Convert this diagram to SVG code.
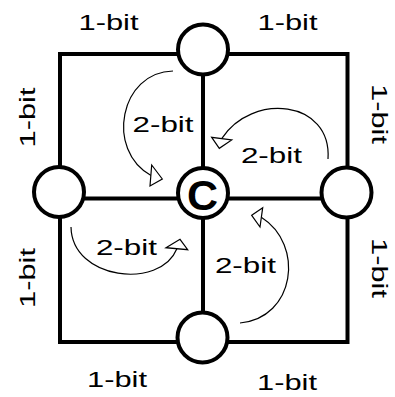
<svg xmlns="http://www.w3.org/2000/svg" width="395" height="397" viewBox="0 0 395 397">
  <style>
    .grid { fill: none; stroke: #000; stroke-width: 4; stroke-linejoin: miter; stroke-linecap: square; }
    .node { fill: #fff; stroke: #000; stroke-width: 4; }
    .arc { fill: none; stroke: #000; stroke-width: 1.2; }
    .head { fill: #fff; stroke: #000; stroke-width: 1.2; stroke-linejoin: miter; }
    .lbl { font-family: "Liberation Sans", Arial, sans-serif; font-size: 22px; fill: #000; text-anchor: middle; }
    .cen { font-family: "Liberation Sans", Arial, sans-serif; font-size: 43px; font-weight: bold; fill: #000; text-anchor: middle; }
  </style>

  <!-- links between the cells -->
  <g id="connectors">
    <rect class="grid" x="60" y="54" width="287.5" height="288"/>
    <line class="grid" x1="203" y1="54" x2="203" y2="342"/>
    <line class="grid" x1="60" y1="198.5" x2="347.5" y2="198.5"/>

    <!-- 2-bit transfer arcs -->
    <path class="arc" d="M173,71 C120,72 105,150 151,175.5"/>
    <polygon class="head" points="151.7,165 162.3,179 150,186"/>
    <path class="arc" d="M328,159 C332,100 252,92 221.7,138.6"/>
    <polygon class="head" points="211.7,137.3 219.3,148.3 231.7,140"/>
    <path class="arc" d="M71,227 C72,280 160,290 176.9,248.7"/>
    <polygon class="head" points="166,247.7 180,239.3 187.7,249.7"/>
    <path class="arc" d="M240,323 C295,318 305,245 261.3,217.3"/>
    <polygon class="head" points="251.7,215.3 262.7,207.7 260,227"/>
  </g>

  <g id="n-top"><circle class="node" cx="203" cy="49.5" r="25"/></g>
  <g id="n-left"><circle class="node" cx="59" cy="192" r="25"/></g>
  <g id="n-right"><circle class="node" cx="346.5" cy="192.5" r="25"/></g>
  <g id="n-bottom"><circle class="node" cx="202.5" cy="337.5" r="25"/></g>
  <g id="n-center">
    <circle class="node" cx="203" cy="193" r="25"/>
    <text class="cen" x="202.5" y="210">C</text>
  </g>

  <g id="labels">
    <text class="lbl" x="108.5" y="30" textLength="60" lengthAdjust="spacingAndGlyphs">1-bit</text>
    <text class="lbl" x="287.5" y="30" textLength="60" lengthAdjust="spacingAndGlyphs">1-bit</text>
    <text class="lbl" x="117" y="387" textLength="60" lengthAdjust="spacingAndGlyphs">1-bit</text>
    <text class="lbl" x="287" y="390" textLength="60" lengthAdjust="spacingAndGlyphs">1-bit</text>
    <text class="lbl" transform="translate(35,117.5) rotate(-90)" textLength="60" lengthAdjust="spacingAndGlyphs">1-bit</text>
    <text class="lbl" transform="translate(35,278) rotate(-90)" textLength="60" lengthAdjust="spacingAndGlyphs">1-bit</text>
    <text class="lbl" transform="translate(372,114) rotate(90)" textLength="60" lengthAdjust="spacingAndGlyphs">1-bit</text>
    <text class="lbl" transform="translate(372,268) rotate(90)" textLength="60" lengthAdjust="spacingAndGlyphs">1-bit</text>

    <text class="lbl" x="163" y="132" textLength="61" lengthAdjust="spacingAndGlyphs">2-bit</text>
    <text class="lbl" x="271.4" y="162.7" textLength="61" lengthAdjust="spacingAndGlyphs">2-bit</text>
    <text class="lbl" x="126.4" y="255" textLength="61" lengthAdjust="spacingAndGlyphs">2-bit</text>
    <text class="lbl" x="245.4" y="273" textLength="61" lengthAdjust="spacingAndGlyphs">2-bit</text>
  </g>
</svg>
